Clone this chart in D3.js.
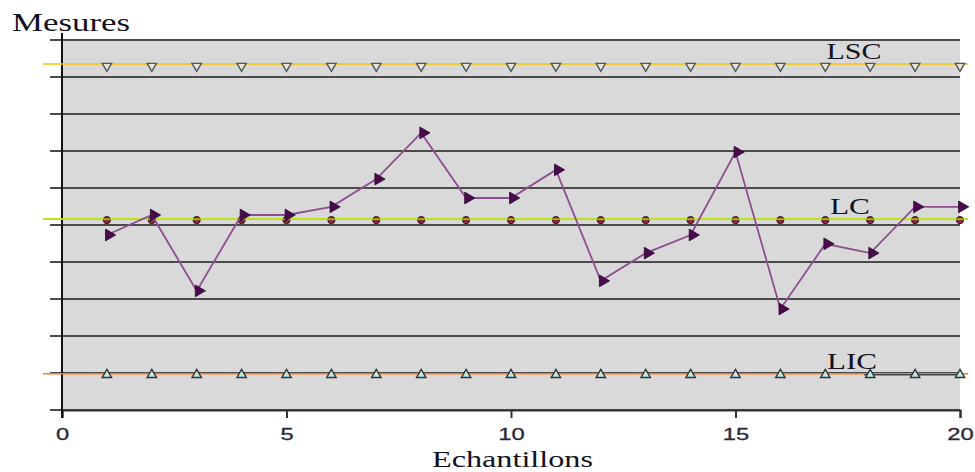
<!DOCTYPE html>
<html><head><meta charset="utf-8">
<script src="https://cdn.jsdelivr.net/npm/d3@7"></script>
<style>body{margin:0;background:#fff}svg{display:block}</style>
</head><body><svg id="c" width="975" height="472"></svg>
<script>
const samples = [1,2,3,4,5,6,7,8,9,10,11,12,13,14,15,16,17,18,19,20];
const mesures = [4.73,5.27,3.22,5.27,5.27,5.49,6.24,7.49,5.73,5.73,6.49,3.49,4.24,4.73,6.97,2.73,4.49,4.24,5.49,5.49];
const LSC = 9.35, LC = 5.16, LIC = 0.98;
const yGrid = [0,1,2,3,4,5,6,7,8,9,10];
const xTicks = [0,5,10,15,20];
const limitLabels = [{name:"LSC", v:LSC, w:55, cx:854},{name:"LC", v:LC, w:40, cx:850},{name:"LIC", v:LIC, w:50, cx:852}];

const svg = d3.select("#c");
const x = d3.scaleLinear().domain([0,20]).range([62,960]);
const y = d3.scaleLinear().domain([0,10]).range([410,40]);

// plot background
svg.append("rect").attr("x", x(0)).attr("y", y(10)).attr("width", x(20)-x(0)).attr("height", y(0)-y(10)).attr("fill", "#d9d9d9");

// gridlines
svg.append("g").selectAll("line").data(yGrid).join("line")
  .attr("x1", x(0)-12).attr("x2", x(20)).attr("y1", d=>y(d)).attr("y2", d=>y(d))
  .attr("stroke", "#4a4a4a").attr("stroke-width", 2);

// x axis
const xa = svg.append("g").attr("transform", `translate(0,${y(0)})`)
  .call(d3.axisBottom(x).tickValues(xTicks).tickSize(8).tickFormat(d3.format("d")));
xa.select(".domain").attr("stroke", "#333").attr("stroke-width", 2);
xa.selectAll(".tick line").attr("stroke", "#333").attr("stroke-width", 2);
xa.selectAll(".tick text").attr("font-family", "Liberation Sans, Arial, sans-serif")
  .attr("font-size", 17).attr("fill", "#2a2a38").attr("stroke", "#2a2a38").attr("stroke-width", 0.3)
  .attr("dy", "1.1em").attr("transform", "scale(1.4,1)");

// y axis line
svg.append("line").attr("x1", x(0)).attr("x2", x(0)).attr("y1", 33).attr("y2", y(0)+8)
  .attr("stroke", "#111").attr("stroke-width", 2);

// limit lines
const limitColors = {LSC:"#f5c400", LC:"#b8e600", LIC:"#ff7a1a"};
svg.append("g").selectAll("line").data(limitLabels).join("line")
  .attr("x1", 43).attr("x2", 968).attr("y1", d=>y(d.v)).attr("y2", d=>y(d.v))
  .attr("stroke", d=>limitColors[d.name]).attr("stroke-width", 1.6);
// dark segment over LIC at right end
svg.append("line").attr("x1", x(18)-6).attr("x2", x(20)).attr("y1", y(LIC)+1).attr("y2", y(LIC)+1)
  .attr("stroke", "#444").attr("stroke-width", 1.5);

// LSC markers (down triangles)
const tri = d3.symbol().type(d3.symbolTriangle).size(38);
svg.append("g").selectAll("path").data(samples).join("path")
  .attr("d", tri)
  .attr("transform", d=>`translate(${x(d)},${y(LSC)+2}) rotate(180)`)
  .attr("fill", "#e6e6d8").attr("stroke", "#555").attr("stroke-width", 1.4);

// LIC markers (up triangles)
svg.append("g").selectAll("path").data(samples).join("path")
  .attr("d", tri)
  .attr("transform", d=>`translate(${x(d)},${y(LIC)+1})`)
  .attr("fill", "#bfe8e8").attr("stroke", "#333").attr("stroke-width", 1.4);

// LC markers (circles)
svg.append("g").selectAll("circle").data(samples).join("circle")
  .attr("cx", d=>x(d)).attr("cy", y(LC)+1).attr("r", 3.6)
  .attr("fill", "#8a2a3a").attr("stroke", "#2a1a1a").attr("stroke-width", 1);

// redraw LC line over markers
svg.append("line").attr("x1", 43).attr("x2", 968).attr("y1", y(LC)).attr("y2", y(LC))
  .attr("stroke", limitColors.LC).attr("stroke-width", 1.4);

// measure series
const line = d3.line().x((d,i)=>x(samples[i])).y(d=>y(d));
svg.append("path").datum(mesures).attr("d", line)
  .attr("fill", "none").attr("stroke", "#8e4f90").attr("stroke-width", 1.8);
const rtri = d3.symbol().type(d3.symbolTriangle).size(60);
svg.append("g").selectAll("path").data(mesures).join("path")
  .attr("d", rtri)
  .attr("transform", (d,i)=>`translate(${x(samples[i])+2},${y(d)}) rotate(90)`)
  .attr("fill", "#4a0a4e").attr("stroke", "#2a0a2e").attr("stroke-width", 0.8);

// labels for limits
svg.append("g").selectAll("text").data(limitLabels).join("text")
  .attr("x", d=>d.cx - d.w/2).attr("y", d=>y(d.v)-5)
  .attr("textLength", d=>d.w).attr("lengthAdjust", "spacingAndGlyphs")
  .attr("font-family", "Liberation Serif, Times New Roman, serif").attr("font-size", 24)
  .attr("fill", "#111122").text(d=>d.name);

// axis titles
svg.append("text").attr("x", 12).attr("y", 31).attr("textLength", 118).attr("lengthAdjust", "spacingAndGlyphs")
  .attr("font-family", "Liberation Serif, Times New Roman, serif").attr("font-size", 26)
  .attr("fill", "#111122").text("Mesures");
svg.append("text").attr("x", 432).attr("y", 467).attr("textLength", 161).attr("lengthAdjust", "spacingAndGlyphs")
  .attr("font-family", "Liberation Serif, Times New Roman, serif").attr("font-size", 23)
  .attr("fill", "#111122").text("Echantillons");
</script></body></html>
